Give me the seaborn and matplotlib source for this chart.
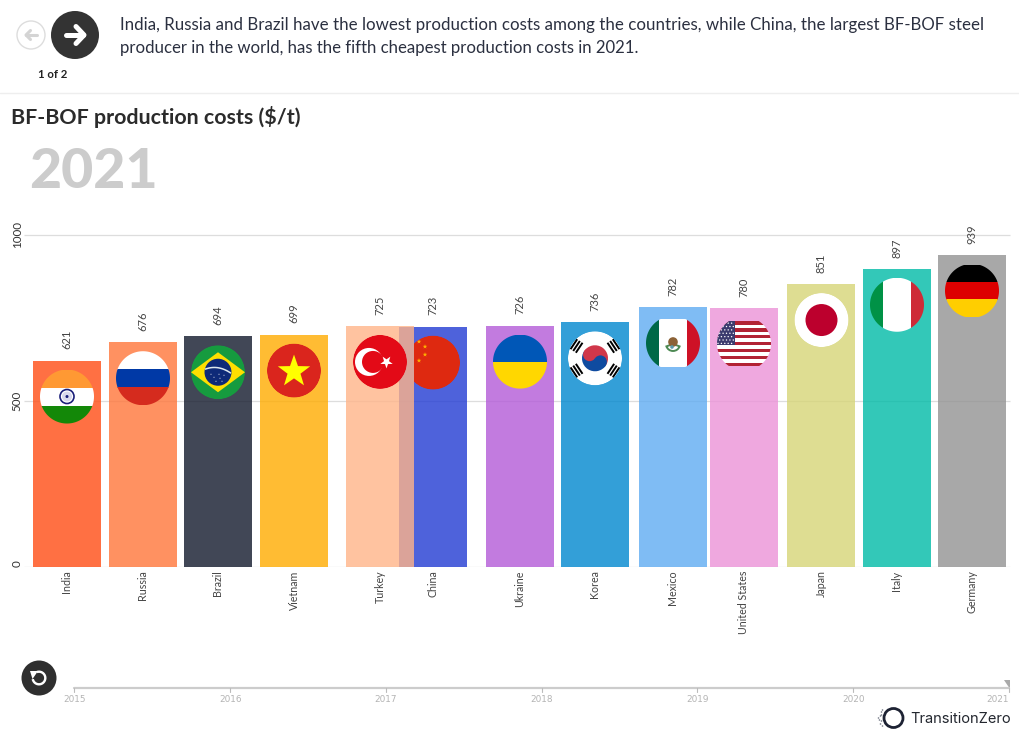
import numpy as np
import pandas as pd
import matplotlib
matplotlib.use('Agg')
import matplotlib.pyplot as plt
from matplotlib.patches import Circle, Rectangle, Polygon, Wedge
import seaborn as sns

# Data
countries = ['India', 'Russia', 'Brazil', 'Vietnam', 'Turkey', 'China', 'Ukraine', 'Korea',
             'Mexico', 'United States', 'Japan', 'Italy', 'Germany']
costs = [621, 676, 694, 699, 725, 723, 726, 736, 782, 780, 851, 897, 939]
y_ticks = [0, 500, 1000]
years = [2015, 2016, 2017, 2018, 2019, 2020, 2021]

# Layout (pixels), bars are caught mid-animation so spacing is uneven
centres = [67, 143, 218, 294, 380, 433, 520, 595, 673, 744, 821.5, 897, 972]
bar_width = 68
colours = ['#FF4C14', '#FF763A', '#12192C', '#FFAC00', '#FFB489', '#223BD3', '#B35AD8',
           '#0087CF', '#5FACF2', '#EB93D8', '#D6D577', '#00BBA6', '#929292']

W, H = 1020, 743
sns.set_theme(style='white')
plt.rcParams['font.family'] = ['Lato', 'DejaVu Sans']

fig = plt.figure(figsize=(W / 100, H / 100), dpi=100)
px_per_unit = 0.3325
ax_left, ax_bottom, ax_top = 24, 567, 130
ax = fig.add_axes([ax_left / W, (H - ax_bottom) / H, (W - ax_left) / W, (ax_bottom - ax_top) / H])

df = pd.DataFrame({'centre': centres, 'cost': costs, 'country': countries})
min_gap = np.diff(centres).min()
sns.barplot(data=df, x='centre', y='cost', hue='country', palette=colours, native_scale=True,
            dodge=False, width=bar_width / min_gap, alpha=0.8, saturation=1, legend=False, ax=ax)
ax.set_xlim(ax_left, W)
ax.set_ylim(0, (ax_bottom - ax_top) / px_per_unit)
sns.despine(ax=ax, left=True, bottom=True)
ax.set_xlabel('')
ax.set_ylabel('')

# Turkey sits over China in the reference
for cont, name in zip(ax.containers, countries):
    for bar in cont:
        bar.set_linewidth(0)
        bar.set_zorder(4 if name == 'Turkey' else 3)
    ax.bar_label(cont, padding=8, rotation=90, fontsize=8, color='#444444')

ax.hlines(y_ticks, ax_left, 1010, color='#dddddd', lw=0.9, zorder=1)
ax.set_xticks(centres, countries, rotation=90, fontsize=7.7, color='#444444')
ax.set_yticks(y_ticks, [str(t) for t in y_ticks], rotation=90, va='center', fontsize=8.4, color='#333333')
ax.get_yticklabels()[0].set_va('bottom')
ax.tick_params(axis='x', length=0, pad=2.5)
ax.tick_params(axis='y', length=0, pad=1)

# Pixel overlay for flags and the page furniture
ov = fig.add_axes([0, 0, 1, 1], zorder=5)
ov.set_xlim(0, W)
ov.set_ylim(H, 0)
ov.axis('off')
ov.patch.set_alpha(0)


def add(p, clip):
    ov.add_patch(p)
    if clip is not None:
        p.set_clip_path(clip)


def star(cx, cy, r, colour, clip=None, rot=-90):
    ang = np.deg2rad(rot + np.arange(10) * 36)
    rad = np.where(np.arange(10) % 2 == 0, r, r * 0.4)
    add(Polygon(np.c_[cx + rad * np.cos(ang), cy + rad * np.sin(ang)], color=colour, lw=0), clip)


def rect(x0, y0, x1, y1, colour, clip):
    add(Rectangle((x0, y0), x1 - x0, y1 - y0, color=colour, lw=0), clip)


def h_bands(cx, cy, half, cols, clip):
    edges = np.linspace(cy - half, cy + half, len(cols) + 1)
    for i, c in enumerate(cols):
        rect(cx - 28, edges[i], cx + 28, edges[i + 1] + (0.3 if i < len(cols) - 1 else 0), c, clip)


def v_bands(cx, cy, half, left, right, cols, clip):
    rect(cx - 28, cy - half, cx - left, cy + half, cols[0], clip)
    rect(cx - left, cy - half, cx + right, cy + half, cols[1], clip)
    rect(cx + right, cy - half, cx + 28, cy + half, cols[2], clip)


def india(cx, cy, c):
    h_bands(cx, cy, 27, ['#FF9933', '#FFFFFF', '#138808'], c)
    add(Circle((cx, cy), 7, fc='none', ec='#1B1F7A', lw=1.2), c)
    add(Circle((cx, cy), 5, fc='#D8D8EC', ec='none'), c)
    add(Circle((cx, cy), 1.5, fc='#1B1F7A', ec='none'), c)


def russia(cx, cy, c):
    h_bands(cx, cy, 27, ['#FFFFFF', '#0039A6', '#D52B1E'], c)


def brazil(cx, cy, c):
    add(Circle((cx, cy), 27, fc='#169B3F', ec='none'), c)
    add(Polygon([(cx - 27, cy), (cx, cy - 20), (cx + 27, cy), (cx, cy + 20)], color='#FEDF00', lw=0), c)
    add(Circle((cx, cy), 13.5, fc='#0E2A78', ec='none'), c)
    t = np.linspace(-1, 1, 30)
    ov.plot(cx + 13 * t, cy - 3.5 + 3.5 * t ** 2 - 1 + 2 * t, color='#DDE8EE', lw=1.1, solid_capstyle='butt')
    for dx, dy in [(-4, 5), (2, 6), (6, 3), (-7, 2), (1, 2), (4, 9), (-2, 9)]:
        add(Circle((cx + dx, cy + dy), 0.5, fc='white', ec='none'), c)


def vietnam(cx, cy, c):
    add(Circle((cx, cy), 27, fc='#DA251D', ec='none'), c)
    star(cx, cy + 1, 17, '#FFFF00', c)


def turkey(cx, cy, c):
    add(Circle((cx, cy), 27, fc='#E30A17', ec='none'), c)
    add(Circle((cx - 11, cy), 14, fc='white', ec='none'), c)
    add(Circle((cx - 7, cy), 11, fc='#E30A17', ec='none'), c)
    star(cx + 6.5, cy, 6.5, 'white', c, rot=-126)


def china(cx, cy, c):
    add(Circle((cx, cy), 27, fc='#DE2910', ec='none'), c)
    for dx, dy in [(-14, -21), (-8, -16), (-8, -8), (-14, -2)]:
        star(cx + dx, cy + dy, 2.4, '#FFB000', c)


def ukraine(cx, cy, c):
    h_bands(cx, cy, 27, ['#0057B7', '#FFD700'], c)


def korea(cx, cy, c):
    add(Circle((cx, cy), 27, fc='white', ec='none'), c)
    tilt = 33.7
    add(Wedge((cx, cy), 13, tilt, tilt + 180, fc='#0F4BA0', ec='none'), c)
    add(Wedge((cx, cy), 13, tilt + 180, tilt + 360, fc='#D0374A', ec='none'), c)
    ux, uy = np.cos(np.deg2rad(tilt)), np.sin(np.deg2rad(tilt))
    add(Circle((cx - 6.5 * ux, cy - 6.5 * uy), 6.5, fc='#D0374A', ec='none'), c)
    add(Circle((cx + 6.5 * ux, cy + 6.5 * uy), 6.5, fc='#0F4BA0', ec='none'), c)
    for ang in [tilt, 180 - tilt, 180 + tilt, -tilt]:
        rx, ry = np.cos(np.deg2rad(ang)), np.sin(np.deg2rad(ang))
        for off in [19, 22.2, 25.4]:
            mx, my = cx + off * rx, cy + off * ry
            ov.plot([mx - 6 * ry, mx + 6 * ry], [my + 6 * rx, my - 6 * rx], color='black', lw=1.4,
                    solid_capstyle='butt', clip_path=c)


def mexico(cx, cy, c):
    v_bands(cx, cy, 24, 14, 14, ['#006847', '#FFFFFF', '#CE1126'], c)
    add(Wedge((cx, cy + 1), 7, 20, 160, fc='none', ec='#4E8A54', lw=1.4), c)
    add(Circle((cx, cy - 1), 4.8, fc='#8C6236', ec='none'), c)
    add(Circle((cx - 1, cy + 4), 1.8, fc='#5C9AA8', ec='none'), c)


def usa(cx, cy, c):
    half = 22.5
    edges = np.linspace(cy - half, cy + half, 14)
    for i in range(13):
        rect(cx - 28, edges[i], cx + 28, edges[i + 1], '#B22234' if i % 2 == 0 else '#FFFFFF', c)
    rect(cx - 28, edges[0], cx - 8.5, edges[7], '#3C3B6E', c)
    for row, sy in enumerate(np.linspace(edges[0] + 2, edges[7] - 2, 7)):
        for sx in np.arange(cx - 26 + (row % 2) * 1.7, cx - 9, 3.4):
            add(Circle((sx, sy), 0.7, fc='white', ec='none'), c)


def japan(cx, cy, c):
    add(Circle((cx, cy), 27, fc='white', ec='none'), c)
    add(Circle((cx, cy), 16, fc='#BC002D', ec='none'), c)


def italy(cx, cy, c):
    v_bands(cx, cy, 27, 14, 14, ['#009246', '#FFFFFF', '#CE2B37'], c)


def germany(cx, cy, c):
    h_bands(cx, cy, 26, ['#000000', '#DD0000', '#FFCE00'], c)


flag_funcs = [india, russia, brazil, vietnam, turkey, china, ukraine, korea, mexico, usa, japan, italy, germany]

# China's flag is cut off where the Turkey bar starts
china_clip_left = 414
order = [i for i in range(len(countries)) if countries[i] != 'Turkey'] + [countries.index('Turkey')]
for i in order:
    cx = centres[i]
    bar_top = H - ax.transData.transform((0, costs[i]))[1]
    cy = bar_top + 36
    th = np.linspace(0, 2 * np.pi, 200)
    xs, ys = cx + 27 * np.cos(th), cy + 27 * np.sin(th)
    if countries[i] == 'China':
        xs = np.maximum(xs, china_clip_left)
    clip = Polygon(np.c_[xs, ys], transform=ov.transData)
    flag_funcs[i](cx, cy, clip)

# Header
ov.plot([0, W], [92.5, 92.5], color='#eeeeee', lw=1)
ov.add_patch(Circle((31, 35), 14, fc='white', ec='#dddddd', lw=1))
ov.plot([37, 26], [35, 35], color='#d4d4d4', lw=2.2, solid_capstyle='round')
ov.plot([30.5, 26, 30.5], [30.5, 35, 39.5], color='#d4d4d4', lw=2.2, solid_capstyle='round')
ov.add_patch(Circle((75, 35), 24, fc='#333333', ec='none'))
ov.plot([66, 83], [35, 35], color='white', lw=3.6, solid_capstyle='round')
ov.plot([76, 84, 76], [26.5, 35, 43.5], color='white', lw=3.6, solid_capstyle='round', solid_joinstyle='round')
ov.text(53, 74, '1 of 2', ha='center', va='center', fontsize=8.2, fontweight='bold', color='#222222')
ov.text(120, 25, 'India, Russia and Brazil have the lowest production costs among the countries, while China, the largest BF-BOF steel',
        va='center', fontsize=12.13, color='#2b3040')
ov.text(120, 48, 'producer in the world, has the fifth cheapest production costs in 2021.',
        va='center', fontsize=12.03, color='#2b3040')
ov.text(11, 117, 'BF-BOF production costs ($/t)', va='center', fontsize=15.4, fontweight='bold', color='#2b2b2b')
ov.text(29, 172, '2021', va='center', fontsize=40, fontweight=900, color='#cccccc')

# Timeline and replay button
ov.add_patch(Circle((39, 678), 17.5, fc='#2f2f2f', ec='none'))
ov.add_patch(Wedge((39, 678), 7.5, -110, 170, width=2.4, fc='white', ec='none'))
ov.add_patch(Polygon([(30, 671), (38, 671), (32.5, 679)], color='white', lw=0))
tick_x = np.linspace(74.3, 1009, len(years))
ov.plot([tick_x[0], tick_x[-1]], [688, 688], color='#cccccc', lw=1.6)
for x, yr in zip(tick_x, years):
    ov.plot([x, x], [688, 692], color='#bbbbbb', lw=0.8)
    ov.text(x, 700, str(yr), ha='right' if yr == years[-1] else 'center', va='center', fontsize=6.4,
            color='#b4b4b4', family='DejaVu Sans')
ov.add_patch(Polygon([(1004, 680), (1010, 680), (1010, 689)], color='#aaaaaa', lw=0))

# Logo
ov.add_patch(Circle((893.5, 718), 9.5, fc='none', ec='#1d2233', lw=2))
for dx, dy in [(-12, -6), (-13, -2), (-14, 2), (-13, 6), (-11, 8), (-11, -8), (-15, 0), (-12, 3), (-12, -3)]:
    ov.add_patch(Circle((893.5 + dx, 718 + dy), 0.8, fc='#777c88', ec='none'))
ov.text(910, 719, 'TransitionZero', va='center', fontsize=10.55, color='#23272f', family='Inter')

fig.savefig('out.png', dpi=100)
